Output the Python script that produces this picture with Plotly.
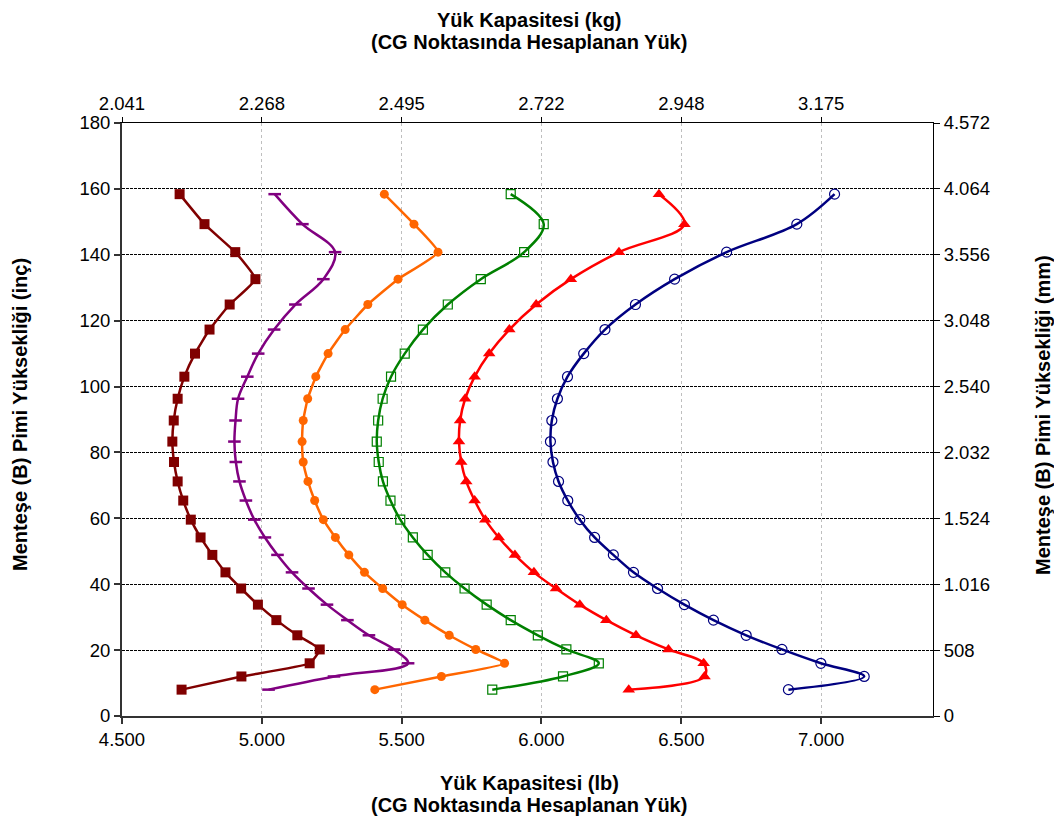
import plotly.graph_objects as go

# Heights (inches) shared by all series
heights = [8, 12, 16, 20.2, 24.5, 29.1, 33.8, 38.7, 43.6, 48.9, 54.2, 59.6, 65.4,
           71.2, 77.1, 83.3, 89.7, 96.3, 103, 110, 117.3, 124.9, 132.6, 140.8, 149.3, 158.4]

# Load capacity (thousand lb) per series
s_darkred = [4.713, 4.927, 5.171, 5.207, 5.127, 5.052, 4.986, 4.926, 4.870, 4.823, 4.781, 4.746, 4.719,
             4.699, 4.686, 4.680, 4.685, 4.699, 4.723, 4.761, 4.813, 4.885, 4.977, 4.905, 4.795, 4.706]
s_purple = [5.024, 5.258, 5.523, 5.473, 5.383, 5.306, 5.233, 5.167, 5.108, 5.056, 5.011, 4.973, 4.943,
            4.920, 4.907, 4.902, 4.906, 4.915, 4.948, 4.987, 5.044, 5.120, 5.220, 5.262, 5.145, 5.046]
s_orange = [5.404, 5.642, 5.868, 5.765, 5.670, 5.583, 5.502, 5.432, 5.367, 5.311, 5.263, 5.220, 5.189,
            5.165, 5.148, 5.144, 5.148, 5.164, 5.193, 5.237, 5.298, 5.379, 5.487, 5.630, 5.544, 5.438]
s_green = [5.824, 6.077, 6.205, 6.089, 5.987, 5.890, 5.804, 5.725, 5.656, 5.593, 5.540, 5.495, 5.460,
           5.433, 5.418, 5.411, 5.416, 5.432, 5.462, 5.511, 5.576, 5.665, 5.783, 5.938, 6.008, 5.890]
s_red = [6.312, 6.583, 6.580, 6.454, 6.338, 6.232, 6.137, 6.052, 5.973, 5.905, 5.847, 5.799, 5.761,
         5.731, 5.713, 5.705, 5.709, 5.727, 5.761, 5.813, 5.885, 5.981, 6.105, 6.277, 6.511, 6.420]
s_blue = [6.883, 7.154, 6.999, 6.860, 6.732, 6.615, 6.511, 6.415, 6.329, 6.257, 6.190, 6.137, 6.094,
          6.061, 6.041, 6.032, 6.037, 6.057, 6.093, 6.151, 6.227, 6.336, 6.476, 6.662, 6.913, 7.048]

# Tick labels
lb_ticks = [4.5, 5.0, 5.5, 6.0, 6.5, 7.0]
lb_labels = ["4.500", "5.000", "5.500", "6.000", "6.500", "7.000"]
kg_labels = ["2.041", "2.268", "2.495", "2.722", "2.948", "3.175"]
in_ticks = [0, 20, 40, 60, 80, 100, 120, 140, 160, 180]
mm_labels = ["0", "508", "1.016", "1.524", "2.032", "2.540", "3.048", "3.556", "4.064", "4.572"]

FONT = "Arial, Liberation Sans, sans-serif"

series = [
    (s_darkred, "#800000", dict(symbol="square", size=10, color="#800000"), 0.4),
    (s_purple, "#800080", dict(symbol="line-ew", size=9, color="#800080",
                               line=dict(color="#800080", width=2.5)), 1.0),
    (s_orange, "#FF6600", dict(symbol="circle", size=9, color="#FF6600"), 0.4),
    (s_green, "#008000", dict(symbol="square-open", size=9, color="#008000",
                              line=dict(color="#008000", width=1.2)), 1.0),
    (s_red, "#FF0000", dict(symbol="triangle-up", size=11, color="#FF0000"), 1.0),
    (s_blue, "#000080", dict(symbol="circle-open", size=10, color="#000080",
                             line=dict(color="#000080", width=1.2)), 1.0),
]

fig = go.Figure()
for xs, col, mk, sm in series:
    fig.add_trace(go.Scatter(
        x=xs, y=heights, mode="lines+markers",
        line=dict(color=col, width=2.5, shape="spline", smoothing=sm),
        marker=mk, showlegend=False, hoverinfo="skip"))

# invisible trace to activate the secondary axes
fig.add_trace(go.Scatter(x=[None], y=[None], xaxis="x2", yaxis="y2",
                         showlegend=False, hoverinfo="skip"))

tickfont = dict(family=FONT, size=18.5, color="#000000")

# page body has an 8px margin, so the figure is 8px smaller each way
W, H = 1054, 812
L, T, R, B = 114, 115, 129, 104
PH = H - T - B  # plot height
PW = W - L - R  # plot width

fig.update_layout(
    width=W, height=H,
    margin=dict(l=L, r=R, t=T, b=B),
    paper_bgcolor="white", plot_bgcolor="white",
    xaxis=dict(range=[4.5, 7.4], tickvals=lb_ticks, ticktext=lb_labels,
               showgrid=True, gridcolor="#BFBFBF", gridwidth=1, griddash="dot",
               showline=True, linecolor="#333333", linewidth=2,
               ticks="outside", ticklen=6, tickcolor="#333333", tickwidth=1.5,
               tickfont=tickfont, zeroline=False),
    yaxis=dict(range=[0, 180], tickvals=in_ticks,
               showgrid=True, gridcolor="#000000", gridwidth=1, griddash="3px,1px",
               showline=True, linecolor="#333333", linewidth=2,
               ticks="outside", ticklen=6, tickcolor="#333333", tickwidth=1.5,
               tickfont=tickfont, zeroline=False),
    xaxis2=dict(range=[4.5, 7.4], overlaying="x", side="top", anchor="y2",
                tickvals=lb_ticks, ticktext=kg_labels, showgrid=False,
                showline=True, linecolor="#000000", linewidth=1,
                ticks="outside", ticklen=5, tickcolor="#000000",
                tickfont=tickfont, zeroline=False),
    yaxis2=dict(range=[0, 180], overlaying="y", side="right", anchor="x2",
                tickvals=in_ticks, ticktext=mm_labels, showgrid=False,
                showline=True, linecolor="#000000", linewidth=1,
                ticks="outside", ticklen=6, tickcolor="#000000",
                tickfont=tickfont, zeroline=False),
)

title_font = dict(family=FONT, size=20, color="#000000")


def ann(text, fx, fy, angle=0):
    fig.add_annotation(text="<b>%s</b>" % text, xref="paper", yref="paper",
                       x=(fx - L) / PW, y=(H - B - fy) / PH, textangle=angle,
                       xanchor="center", yanchor="middle", showarrow=False,
                       borderpad=0, font=title_font)


ann("Yük Kapasitesi (kg)", 521, 12)
ann("(CG Noktasında Hesaplanan Yük)", 521, 34)
ann("Yük Kapasitesi (lb)", 521, 775)
ann("(CG Noktasında Hesaplanan Yük)", 521, 797)
ann("Menteşe (B) Pimi Yüksekliği (inç)", 12, 407, -90)
ann("Menteşe (B) Pimi Yüksekliği (mm)", 1035, 407, -90)

fig.write_html("out.html")
